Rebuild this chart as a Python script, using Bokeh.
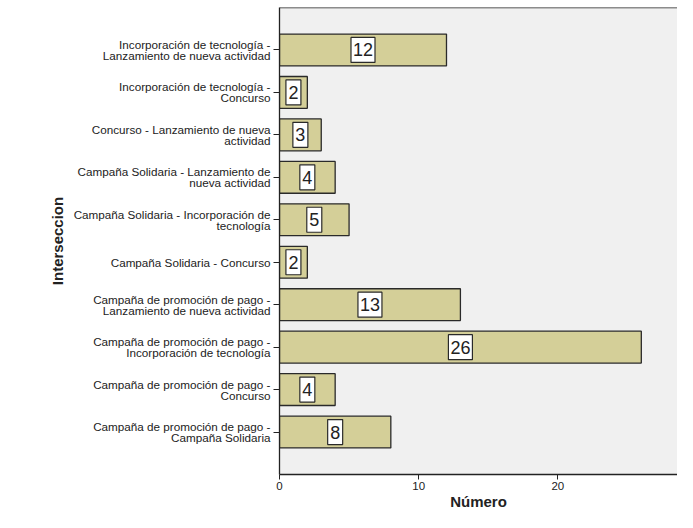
from bokeh.plotting import figure
from bokeh.models import Range1d, FactorRange, ColumnDataSource, Span
from bokeh.embed import file_html
from bokeh.resources import INLINE
from bokeh.core.properties import value

categories = [
    "Incorporación de tecnología -\nLanzamiento de nueva actividad",
    "Incorporación de tecnología -\nConcurso",
    "Concurso - Lanzamiento de nueva\nactividad",
    "Campaña Solidaria - Lanzamiento de\nnueva actividad",
    "Campaña Solidaria - Incorporación de\ntecnología",
    "Campaña Solidaria - Concurso",
    "Campaña de promoción de pago -\nLanzamiento de nueva actividad",
    "Campaña de promoción de pago -\nIncorporación de tecnología",
    "Campaña de promoción de pago -\nConcurso",
    "Campaña de promoción de pago -\nCampaña Solidaria",
]
counts = [12, 2, 3, 4, 5, 2, 13, 26, 4, 8]
x_ticks = [0, 10, 20]

FONT = "Liberation Sans"

src = ColumnDataSource(dict(
    cat=categories,
    n=counts,
    mid=[c / 2 for c in counts],
    lbl=[str(c) for c in counts],
    bw=[6 + 9 * len(str(c)) for c in counts],
))

p = figure(
    width=677, height=512,
    y_range=FactorRange(factors=list(reversed(categories)), range_padding=0.1),
    x_range=Range1d(0, 28.6),
    output_backend="svg", toolbar_location=None,
    min_border_left=279, min_border_right=0, min_border_top=7, min_border_bottom=33,
)
p.background_fill_color = "#f0f0f0"
p.border_fill_color = "white"
p.outline_line_color = None
p.xgrid.grid_line_color = None
p.ygrid.grid_line_color = None

p.hbar(y="cat", right="n", left=0, height=0.75, source=src,
       fill_color="#d4cf98", line_color="#2a2a2a", line_width=1.3)

p.rect(x="mid", y="cat", width="bw", height=25, width_units="screen", height_units="screen",
       source=src, fill_color="white", line_color="#2a2a2a", line_width=1.2)
p.text(x="mid", y="cat", text="lbl", source=src, text_align="center", text_baseline="middle",
       text_font=value(FONT), text_font_size="18px", text_color="#222222")

top = Span(location=10.5, dimension="width", line_color="#222222", line_width=1.3)
p.add_layout(top)

p.xaxis.ticker = x_ticks
p.xaxis.minor_tick_line_color = None
p.xaxis.major_tick_in = 0
p.xaxis.major_tick_out = 5
p.xaxis.major_label_standoff = 2
p.xaxis.axis_label = "Número"
p.xaxis.axis_label_text_font = FONT
p.xaxis.axis_label_text_font_style = "bold"
p.xaxis.axis_label_text_font_size = "15px"
p.xaxis.axis_label_standoff = 0
p.xaxis.major_label_text_font = FONT
p.xaxis.major_label_text_font_size = "11.5px"
p.xaxis.major_label_text_color = "#222222"

p.yaxis.axis_label = "Interseccion"
p.yaxis.axis_label_text_font = FONT
p.yaxis.axis_label_text_font_style = "bold"
p.yaxis.axis_label_text_font_size = "15px"
p.yaxis.axis_label_standoff = 5
p.yaxis.major_label_text_font = FONT
p.yaxis.major_label_text_font_size = "11.7px"
p.yaxis.major_label_text_line_height = 0.85
p.yaxis.major_label_text_color = "#222222"
p.yaxis.major_label_standoff = 3
p.yaxis.major_tick_in = 0
p.yaxis.major_tick_out = 6

for ax in (p.xaxis, p.yaxis):
    ax.axis_line_color = "#222222"
    ax.axis_line_width = 1.3
    ax.major_tick_line_color = "#222222"
    ax.axis_label_text_color = "#222222"

open("out.html", "w").write(file_html(p, INLINE))
